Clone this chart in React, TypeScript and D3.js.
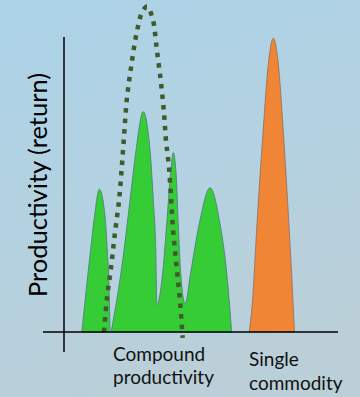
import React from "react";
import * as d3 from "d3";

// ---- data (x: 0..100 along the category axis, y: productivity 0..100) ----
const smallPeakX = [6.5, 7.7, 9.7, 11.1, 12.9, 15.0, 15.8, 16.4, 16.8];
const smallPeakY = [0, 10.8, 27.8, 39.1, 48.4, 39.1, 27.8, 16.6, 0];

const clusterX = [17.2, 21.1, 24.1, 26.3, 28.9, 31.4, 32.6, 33.5, 33.9, 36.0, 37.5, 38.9, 39.9, 40.9, 41.7, 42.6, 44.2, 46.2, 49.4, 53.3, 56.9, 59.4, 61.2];
const clusterY = [0, 22.1, 44.7, 61.7, 74.7, 61.7, 44.7, 27.8, 9.2, 20.0, 36.9, 53.9, 60.8, 53.9, 36.9, 20.0, 9.7, 20.0, 36.9, 48.9, 36.9, 20.0, 0];

const singleX = [67.6, 68.9, 70.3, 72.7, 74.6, 76.4, 78.2, 80.0, 82.2, 83.5, 84.1];
const singleY = [0, 12.0, 34.6, 68.5, 91.1, 99.6, 91.1, 68.5, 34.6, 12.0, 0];

const compoundX = [14.6, 15.6, 17.2, 18.6, 20.1, 21.1, 22.0, 22.9, 24.5, 26.5, 28.4, 30.3, 32.3, 33.9, 35.4, 36.5, 37.2, 38.3, 39.1, 39.9, 41.1, 42.3, 43.3];
const compoundY = [0, 10.8, 22.1, 33.6, 44.7, 56.0, 67.5, 78.6, 89.9, 101.3, 108.1, 110.3, 106.4, 95.6, 84.4, 74.2, 65.1, 56.0, 44.7, 33.6, 22.1, 10.8, -2.0];

const yAxisTitle = "Productivity (return)";
const compoundLabel = ["Compound", "productivity"];
const singleLabel = ["Single", "commodity"];

const W = 360;
const H = 397;
const plotLeft = 64;
const plotRight = 338;
const baseY = 332;
const plotTop = 37;
const axisOverhang = 21;
const yAxisBottom = 352;

const x = d3.scaleLinear().domain([0, 100]).range([plotLeft, plotRight]);
const y = d3.scaleLinear().domain([0, 100]).range([baseY, plotTop]);

const zip = (xs: number[], ys: number[]) => xs.map((v, i) => [v, ys[i]] as [number, number]);

const areaGen = d3
  .area<[number, number]>()
  .x((d) => x(d[0]))
  .y0(y(0))
  .y1((d) => y(d[1]))
  .curve(d3.curveMonotoneX);

const lineGen = d3
  .line<[number, number]>()
  .x((d) => x(d[0]))
  .y((d) => y(d[1]))
  .curve(d3.curveCatmullRom.alpha(0.5));

export default function App() {
  const font = "Lato, 'Open Sans', sans-serif";
  return (
    <svg width={W} height={H} style={{ position: "absolute", left: 0, top: 0, display: "block" }}>
      <defs>
        <linearGradient id="bg" x1="0" y1="0" x2="0.3" y2="1">
          <stop offset="0" stopColor="#acd3e7" />
          <stop offset="0.5" stopColor="#b3d2e2" />
          <stop offset="1" stopColor="#bacfd8" />
        </linearGradient>
      </defs>
      <rect x={0} y={0} width={W} height={H} fill="url(#bg)" />

      <path d={areaGen(zip(smallPeakX, smallPeakY)) || ""} fill="#35cc35" stroke="#4a7a80" strokeWidth={0.8} />
      <path d={areaGen(zip(clusterX, clusterY)) || ""} fill="#35cc35" stroke="#4a7a80" strokeWidth={0.8} />
      <path d={areaGen(zip(singleX, singleY)) || ""} fill="#f08535" stroke="#8a6e60" strokeWidth={0.8} />

      <path
        d={lineGen(zip(compoundX, compoundY)) || ""}
        fill="none"
        stroke="#3f5a2b"
        strokeWidth={4.5}
        strokeDasharray="4.5 6"
      />

      <line x1={plotLeft - axisOverhang} x2={plotRight} y1={baseY} y2={baseY} stroke="#000" strokeWidth={1.5} />
      <line x1={plotLeft} x2={plotLeft} y1={plotTop} y2={yAxisBottom} stroke="#000" strokeWidth={1.5} />

      <text
        transform={`translate(46.5, ${(70 + 300) / 2}) rotate(-90)`}
        textAnchor="middle"
        fontFamily={font}
        fontSize={25.5}
        fill="#000"
      >
        {yAxisTitle}
      </text>

      <text x={113} y={361} fontFamily={font} fontSize={19} fill="#111">{compoundLabel[0]}</text>
      <text x={113} y={384} fontFamily={font} fontSize={19} fill="#111">{compoundLabel[1]}</text>
      <text x={249} y={366} fontFamily={font} fontSize={19} fill="#111">{singleLabel[0]}</text>
      <text x={249} y={389.5} fontFamily={font} fontSize={19} fill="#111">{singleLabel[1]}</text>
    </svg>
  );
}
